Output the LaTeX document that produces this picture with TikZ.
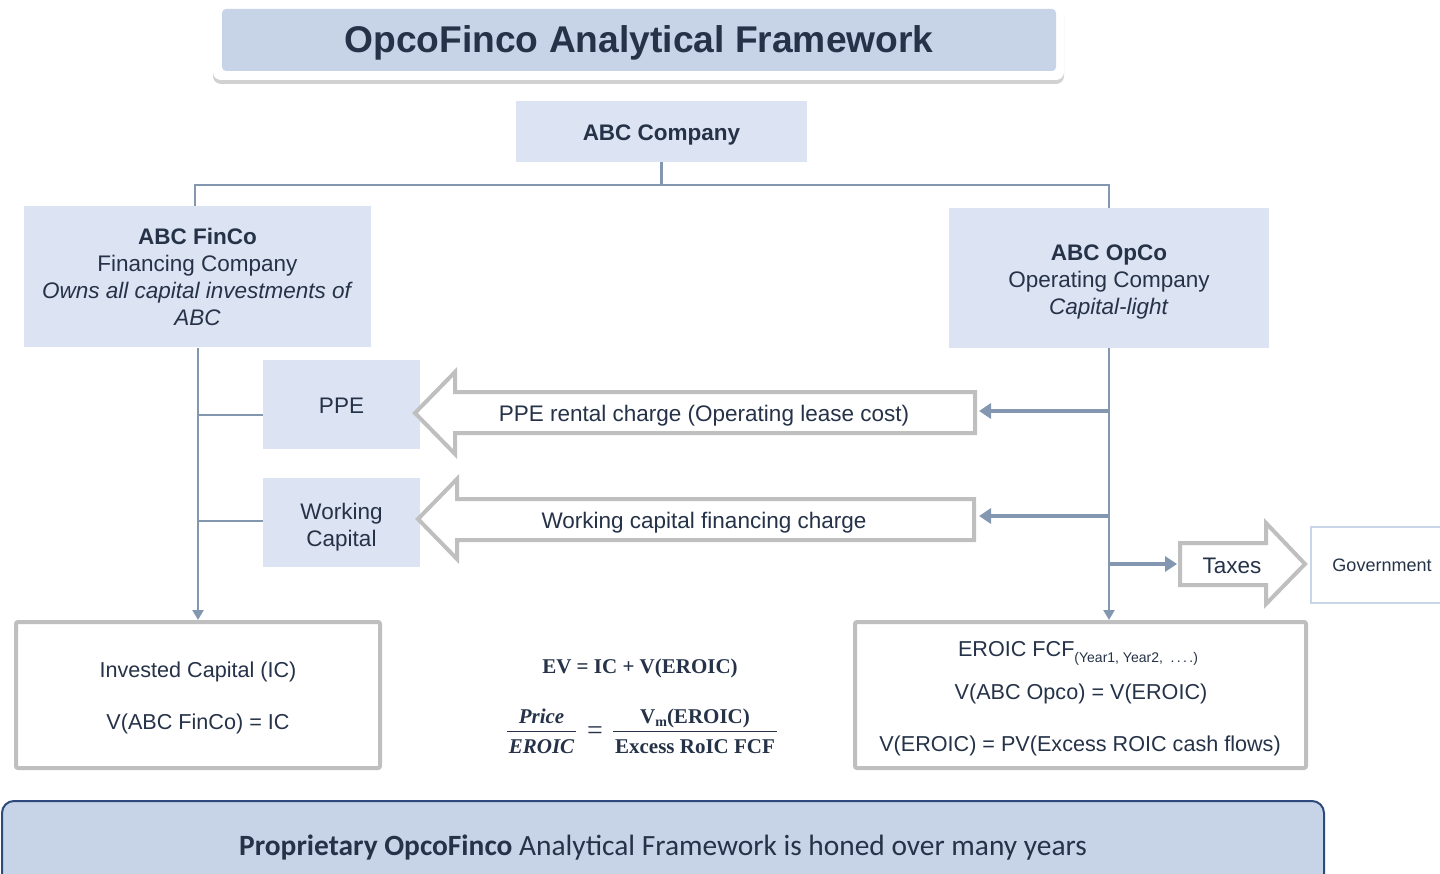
\documentclass[tikz,border=0pt]{standalone}
\usepackage{fontspec}
\setmainfont{Liberation Sans}
\newfontfamily\calibrifont{Carlito}
\newfontfamily\eqfont{Liberation Serif}
\usetikzlibrary{arrows.meta,shadows}

\definecolor{ink}{HTML}{253248}
\definecolor{paleblue}{HTML}{DCE3F2}
\definecolor{titleblue}{HTML}{C7D4E8}
\definecolor{linkblue}{HTML}{8497B0}
\definecolor{framegray}{HTML}{BFBFBF}
\definecolor{bannerline}{HTML}{2E4A7D}
\definecolor{govline}{HTML}{C9D5E8}

\newcommand\fsz[2]{\fontsize{#1}{#2}\selectfont}

\begin{document}
\begin{tikzpicture}[x=1pt,y=-1pt,
  every node/.style={text=ink, inner sep=0pt},
  bluebox/.style={fill=paleblue, draw=none},
  body/.style={font=\fsz{22.5}{27}},
  paneltext/.style={font=\fsz{21.6}{26}, anchor=base},
  eq/.style={font=\eqfont\bfseries\fsz{21}{25}, anchor=base},
  link/.style={draw=linkblue, line width=2.4pt},
  tiplink/.style={link, -{Triangle[length=10pt,width=11pt]}},
  feed/.style={draw=linkblue, line width=4pt, -{Triangle[length=12pt,width=15pt]}},
  hollow/.style={draw=framegray, line width=4pt, fill=white, line join=miter},
  panel/.style={draw=framegray, line width=4pt, fill=white, rounded corners=2pt},
  fracbar/.style={draw=ink, line width=1.8pt},
]
\useasboundingbox (0,0) rectangle (1440,874);

% heading banner
\path[fill=white, rounded corners=8pt,
      drop shadow={shadow xshift=0pt, shadow yshift=-4pt, opacity=0.3, fill=black!60}]
  (213,4) rectangle (1064,80);
\node[fill=titleblue, rounded corners=4pt, minimum width=834pt, minimum height=62pt]
  (titlebox) at (639,40) {};
\node[font=\bfseries\fsz{37.2}{44}, anchor=base] (title) at (639,53) {OpcoFinco Analytical Framework};

% company tree
\node[bluebox, minimum width=291pt, minimum height=61pt] (abc) at (661.5,131.5) {};
\node[font=\bfseries\fsz{22.5}{27}, anchor=base] (abctext) at (661.5,141) {ABC Company};
\node[bluebox, minimum width=347pt, minimum height=141pt, align=center, body]
  (finco) at (197.5,277)
  {\textbf{ABC FinCo}\\Financing Company\\\textit{Owns all capital investments of}\\\textit{ABC}};
\node[bluebox, minimum width=320pt, minimum height=140pt] (opco) at (1109,278) {};
\node[align=center, body] (opcotext) at (1109,281.5)
  {\textbf{ABC OpCo}\\Operating Company\\\textit{Capital-light}};
\node[bluebox, minimum width=157pt, minimum height=89pt] (ppe) at (341.5,404.5) {};
\node[body] (ppetext) at (341.5,406) {PPE};
\node[bluebox, minimum width=157pt, minimum height=89pt] (wc) at (341.5,522.5) {};
\node[align=center, body] (wctext) at (341.5,527) {Working\\Capital};

\coordinate (split) at (661.5,185);
\draw[link] (abc.south) -- (split);
\draw[link] (split) -| (195,206) coordinate (fincotop);
\draw[link] (split) -| (opco.north);

% result panels
\node[panel, minimum width=364pt, minimum height=146pt] (ic) at (198,695) {};
\node[panel, minimum width=451pt, minimum height=146pt] (eroic) at (1080.5,695) {};

\node[paneltext] (ictitle) at (198,677) {Invested Capital (IC)};
\node[paneltext] (icval) at (198,729) {V(ABC FinCo) = IC};

\node[paneltext] (fcf) at (1078,656)
  {EROIC FCF\raisebox{-6pt}{\fsz{14}{16}(Year1, Year2, \ .\,.\,.\,.)}};
\node[paneltext] (opval) at (1081,699) {V(ABC Opco) = V(EROIC)};
\node[paneltext] (pv) at (1080,751) {V(EROIC) = PV(Excess ROIC cash flows)};

% FinCo side
\draw[tiplink] (finco.south -| ic.north) -- (ic.north);
\draw[link] (ic.north |- 0,415) -- (ppe.west |- 0,415);
\draw[link] (ic.north |- 0,521) -- (wc.west |- 0,521);

% hollow charge arrows
\draw[hollow] (975,392) -- (455,392) -- (455,372) -- (415,413) -- (455,454) -- (455,433) -- (975,433) -- cycle;
\node[body] (ppecharge) at (704,416) {PPE rental charge (Operating lease cost)};
\coordinate (ppeend) at (979,411);

\draw[hollow] (974,499) -- (457,499) -- (457,479) -- (418,519) -- (457,559) -- (457,540) -- (974,540) -- cycle;
\node[body] (wccharge) at (704,523) {Working capital financing charge};
\coordinate (wcend) at (979,516);

% OpCo side
\draw[tiplink] (opco.south) -- (opco.south |- eroic.north);
\draw[feed] (opco.south |- ppeend) -- (ppeend);
\draw[feed] (opco.south |- wcend) -- (wcend);

\draw[hollow] (1180,543) -- (1266,543) -- (1266,523) -- (1305,564) -- (1266,604) -- (1266,585) -- (1180,585) -- cycle;
\node[body] (taxes) at (1232,566) {Taxes};
\coordinate (taxin) at (1177,564);
\draw[feed] (opco.south |- taxin) -- (taxin);

\node[draw=govline, line width=2pt, fill=white, minimum width=142pt, minimum height=76pt,
      font=\fsz{18}{22}] (gov) at (1382,565) {Government};

% valuation formulas
\node[eq] (ev) at (640,673) {EV = IC + V(EROIC)};
\node[eq, font=\eqfont\bfseries\itshape\fsz{21}{25}] (price) at (541.5,723) {Price};
\node[eq, font=\eqfont\bfseries\itshape\fsz{21}{25}] (eroicden) at (541.5,753) {EROIC};
\draw[fracbar] (507,731.5) -- (576,731.5);
\node[font=\eqfont\fsz{28}{30}] (equals) at (595,733) {=};
\node[eq] (vm) at (695,723) {V\raisebox{-3pt}{\fsz{14}{16}m}(EROIC)};
\node[eq] (excess) at (695,753) {Excess RoIC FCF};
\draw[fracbar] (613,731.5) -- (777,731.5);

% footer banner
\path[fill=titleblue, draw=bannerline, line width=2pt, rounded corners=12pt]
  (2,890) -- (2,801) -- (1324,801) -- (1324,890);
\node[font=\calibrifont\fsz{29.4}{34}, anchor=base] (footer) at (663,855)
  {\textbf{Proprietary OpcoFinco} Analytical Framework is honed over many years};
\end{tikzpicture}
\end{document}
